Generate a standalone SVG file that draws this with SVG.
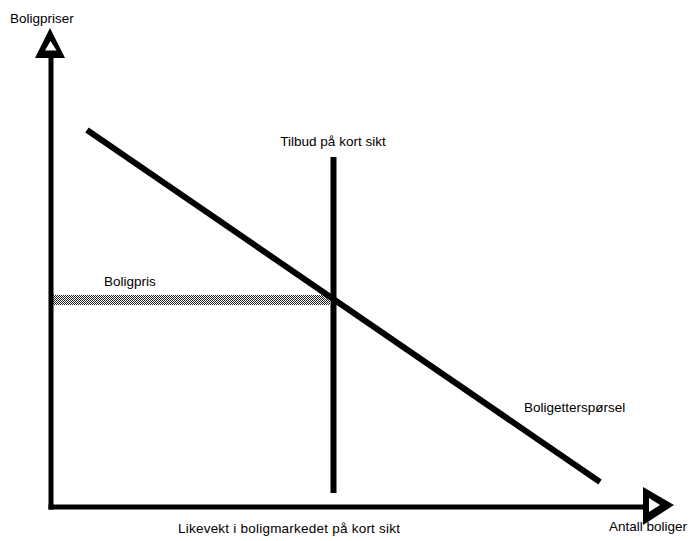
<svg xmlns="http://www.w3.org/2000/svg" width="691" height="541" viewBox="0 0 691 541">
  <style>
    .lbl { font-family: "Liberation Sans", Arial, sans-serif; font-size: 13.5px; fill: #000; }
    .ax { stroke: #000; stroke-width: 5; fill: none; }
    .curve { stroke: #000; stroke-width: 6; fill: none; }
    .head { fill: #000; }
    .hole { fill: #fff; }
  </style>
  <defs>
    <pattern id="checker" x="0" y="0" width="2" height="2" patternUnits="userSpaceOnUse">
      <rect x="0" y="0" width="2" height="2" fill="#fff"/>
      <rect x="0" y="0" width="1" height="1" fill="#222"/>
      <rect x="1" y="1" width="1" height="1" fill="#222"/>
    </pattern>
  </defs>
  <rect width="691" height="541" fill="#fff"/>

  <g id="connectors">
    <!-- price line (hatched) -->
    <rect id="boligpris-line" x="53" y="295" width="277" height="10" fill="url(#checker)"/>
    <!-- demand curve -->
    <line id="demand" class="curve" x1="87" y1="130" x2="600" y2="482"/>
    <!-- supply short term -->
    <line id="supply" class="curve" x1="333.5" y1="157" x2="333.5" y2="493"/>
  </g>

  <g id="y-axis">
    <line class="ax" x1="51" y1="56" x2="51" y2="509.5"/>
    <polygon class="head" points="50,28 35,58 65,58"/>
    <polygon class="hole" points="50.5,41 45,50.5 56.5,50.5"/>
  </g>
  <g id="x-axis">
    <line class="ax" x1="48.5" y1="507" x2="645" y2="507"/>
    <polygon class="head" points="643,487 643,525 674,505"/>
    <polygon class="hole" points="649,498 649,512 660,505"/>
  </g>

  <g id="labels">
    <text id="t-boligpriser" class="lbl" x="10" y="23">Boligpriser</text>
    <text id="t-tilbud" class="lbl" x="333" y="146" text-anchor="middle">Tilbud på kort sikt</text>
    <text id="t-boligpris" class="lbl" x="104" y="286">Boligpris</text>
    <text id="t-etterspørsel" class="lbl" x="524" y="412">Boligetterspørsel</text>
    <text id="t-antall" class="lbl" x="609" y="531">Antall boliger</text>
    <text id="t-likevekt" class="lbl" x="178" y="533" textLength="222">Likevekt i boligmarkedet på kort sikt</text>
  </g>
</svg>
